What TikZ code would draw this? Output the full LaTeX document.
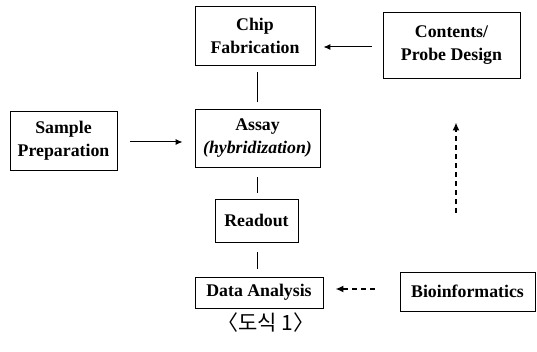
\documentclass[tikz,border=0pt]{standalone}
\usepackage{fontspec}
\setmainfont{Liberation Serif}
\newfontfamily\cjk{Noto Sans CJK KR}
\usetikzlibrary{arrows.meta}
\begin{document}
\begin{tikzpicture}[x=1pt,y=-1pt,
  box/.style={draw,line width=0.9pt,inner sep=0pt,align=center,
    font=\fontsize{17.8}{23}\selectfont\bfseries},
  arr/.style={line width=1pt,-{Latex[length=7pt,width=6pt]}},
  darr/.style={line width=1.6pt,dash pattern=on 5pt off 4pt,-{Latex[length=8pt,width=7pt]}},
  link/.style={line width=0.9pt}]
\useasboundingbox (0,0) rectangle (537,352);
\node[box,minimum width=120pt,minimum height=59pt] (chip) at (255,35.5) {Chip\\Fabrication};
\node[box,minimum width=137pt,minimum height=66pt] (cont) at (451.5,45) {Contents/\\Probe Design};
\node[box,minimum width=107pt,minimum height=59pt] (samp) at (63.5,140.5) {Sample\\Preparation};
\node[box,minimum width=125pt,minimum height=58pt] (assay) at (257.5,138) {Assay\\\textit{(hybridization)}};
\node[box,minimum width=83pt,minimum height=43pt] (read) at (256.5,220.5) {Readout};
\node[box,minimum width=128pt,minimum height=31pt] (data) at (259,292.5) {Data Analysis};
\node[box,minimum width=135pt,minimum height=39pt] (bio) at (467.5,291.5) {Bioinformatics};
\node[font=\cjk\fontsize{21}{24}\selectfont] (cap) at (266,323) {〈도식 1〉};
\draw[arr,shorten <=11pt,shorten >=8pt] ([yshift=-2pt]cont.west) -- ([yshift=-2pt]chip.east |- cont.west);
\draw[arr,shorten <=13pt,shorten >=12pt] ([yshift=-1.5pt]samp.east) -- ([yshift=-1.5pt]assay.west |- samp.east);
\draw[link,shorten <=7pt,shorten >=7pt] ([xshift=2pt]chip.south) -- ([xshift=2pt]chip.south |- assay.north);
\draw[link,shorten <=10pt,shorten >=6pt] ([xshift=0.5pt]read.north |- assay.south) -- ([xshift=0.5pt]read.north);
\draw[link,shorten <=10pt,shorten >=8pt] ([xshift=0.5pt]read.south) -- ([xshift=0.5pt]read.south |- data.north);
\draw[darr,shorten <=25pt,shorten >=12pt] ([yshift=2.5pt]bio.west) -- ([yshift=2.5pt]data.east |- bio.west);
\draw[darr,shorten <=59pt,shorten >=44pt] ([xshift=-11.5pt]bio.north) -- ([xshift=-11.5pt]bio.north |- cont.south);
\end{tikzpicture}
\end{document}
